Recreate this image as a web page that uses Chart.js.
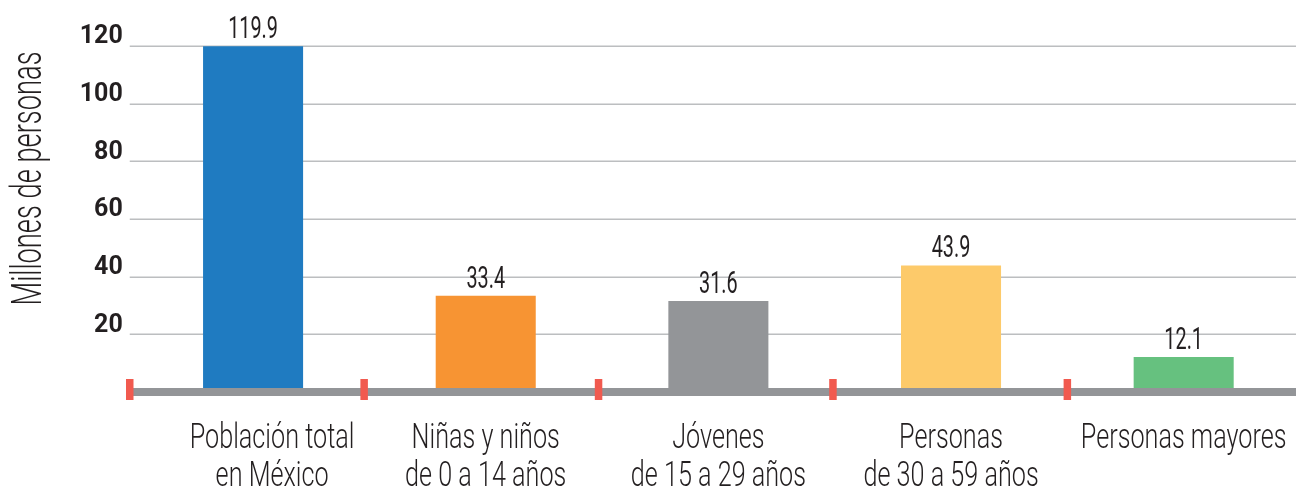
<!DOCTYPE html>
<html>
<head>
<meta charset="utf-8">
<script src="https://cdn.jsdelivr.net/npm/chart.js@4.4.1/dist/chart.umd.min.js"></script>
<style>
  html, body { margin: 0; padding: 0; background: #ffffff; overflow: hidden; }
  #wrap { width: 1300px; height: 493px; }
</style>
</head>
<body>
<div id="wrap"><canvas id="c" width="1300" height="493"></canvas></div>
<script>
const categories = [
  ["Población total", "en México"],
  ["Niñas y niños", "de 0 a 14 años"],
  ["Jóvenes", "de 15 a 29 años"],
  ["Personas", "de 30 a 59 años"],
  ["Personas mayores"]
];
const values = [119.9, 33.4, 31.6, 43.9, 12.1];
const valueLabels = ["119.9", "33.4", "31.6", "43.9", "12.1"];
const barColors = ["#1f7bc1", "#f79433", "#939598", "#fdca6a", "#66c17f"];
const yTicks = [20, 40, 60, 80, 100, 120];
const yTitle = "Millones de personas";

const FONT = 'Roboto, "Liberation Sans", sans-serif';
const TEXT = '#231f20';

function condensedText(ctx, text, x, y, sx) {
  ctx.save();
  ctx.translate(x, y);
  ctx.scale(sx, 1);
  ctx.fillText(text, 0, 0);
  ctx.restore();
}

const decor = {
  id: 'decor',
  beforeDatasetsDraw(chart) {
    const { ctx, chartArea, scales } = chart;
    const y = scales.y;
    ctx.save();
    ctx.strokeStyle = '#bcbec0';
    ctx.lineWidth = 1.5;
    yTicks.forEach(v => {
      const py = Math.round(y.getPixelForValue(v)) + 0.25;
      ctx.beginPath();
      ctx.moveTo(chartArea.left - 7, py);
      ctx.lineTo(chart.width, py);
      ctx.stroke();
    });
    ctx.restore();
  },
  afterDatasetsDraw(chart) {
    const { ctx, chartArea, scales } = chart;
    const x = scales.x, y = scales.y;
    const y0 = y.getPixelForValue(0);
    ctx.save();
    // axis line
    ctx.fillStyle = '#939598';
    ctx.fillRect(chartArea.left - 7, y0 - 4, chart.width, 8);
    // red separators
    const n = categories.length;
    const half = (x.getPixelForValue(1) - x.getPixelForValue(0)) / 2;
    const first = x.getPixelForValue(0) - half - 7;
    const last = x.getPixelForValue(n - 1) - half;
    const step = (last - first) / (n - 1);
    ctx.fillStyle = '#f15a4f';
    for (let i = 0; i < n; i++) {
      const px = first + step * i;
      ctx.fillRect(px - 3.75, y0 - 13, 7.5, 21);
    }
    // data labels
    const meta = chart.getDatasetMeta(0);
    ctx.fillStyle = TEXT;
    ctx.textAlign = 'center';
    ctx.textBaseline = 'alphabetic';
    ctx.font = '400 32px ' + FONT;
    meta.data.forEach((bar, i) => {
      condensedText(ctx, valueLabels[i], bar.x, bar.y - 8, 0.62);
    });
    // category labels (first one sits a little right of its bar in the original)
    ctx.font = '300 35px ' + FONT;
    categories.forEach((lines, i) => {
      const cx = x.getPixelForValue(i) + (i === 0 ? 19 : 0);
      lines.forEach((t, j) => {
        condensedText(ctx, t, cx, y0 + 56 + j * 38, 0.72);
      });
    });
    // y-axis title
    ctx.save();
    ctx.font = '300 42px ' + FONT;
    ctx.translate(41, (chartArea.top + 4 + 307) / 2);
    ctx.rotate(-Math.PI / 2);
    ctx.scale(0.65, 1);
    ctx.fillText(yTitle, 0, 0);
    ctx.restore();
    ctx.restore();
  }
};

new Chart(document.getElementById('c'), {
  type: 'bar',
  data: {
    labels: categories,
    datasets: [{
      data: values,
      backgroundColor: barColors,
      borderWidth: 0,
      barPercentage: 0.43,
      categoryPercentage: 1.0
    }]
  },
  options: {
    responsive: false,
    animation: false,
    devicePixelRatio: 1,
    layout: { padding: { top: 46, right: 0, bottom: 0, left: 0 } },
    plugins: { legend: { display: false }, tooltip: { enabled: false } },
    scales: {
      x: {
        grid: { display: false, drawTicks: false },
        border: { display: false },
        ticks: { display: false },
        afterFit(scale) {
          scale.height = 101;
          scale.paddingLeft = 0;
          scale.paddingRight = 0;
        }
      },
      y: {
        min: 0,
        max: 120,
        grid: { display: false, drawTicks: false },
        border: { display: false },
        afterBuildTicks(scale) { scale.ticks = [0].concat(yTicks).map(v => ({ value: v })); },
        ticks: {
          color: TEXT,
          font: { family: FONT, size: 25, weight: 'bold' },
          padding: 14,
          labelOffset: -9,
          callback: v => (v === 0 ? '' : String(v))
        },
        afterFit(scale) {
          scale.width = 136.75;
          scale.paddingTop = 0;
          scale.paddingBottom = 0;
        }
      }
    }
  },
  plugins: [decor]
});
</script>
</body>
</html>
